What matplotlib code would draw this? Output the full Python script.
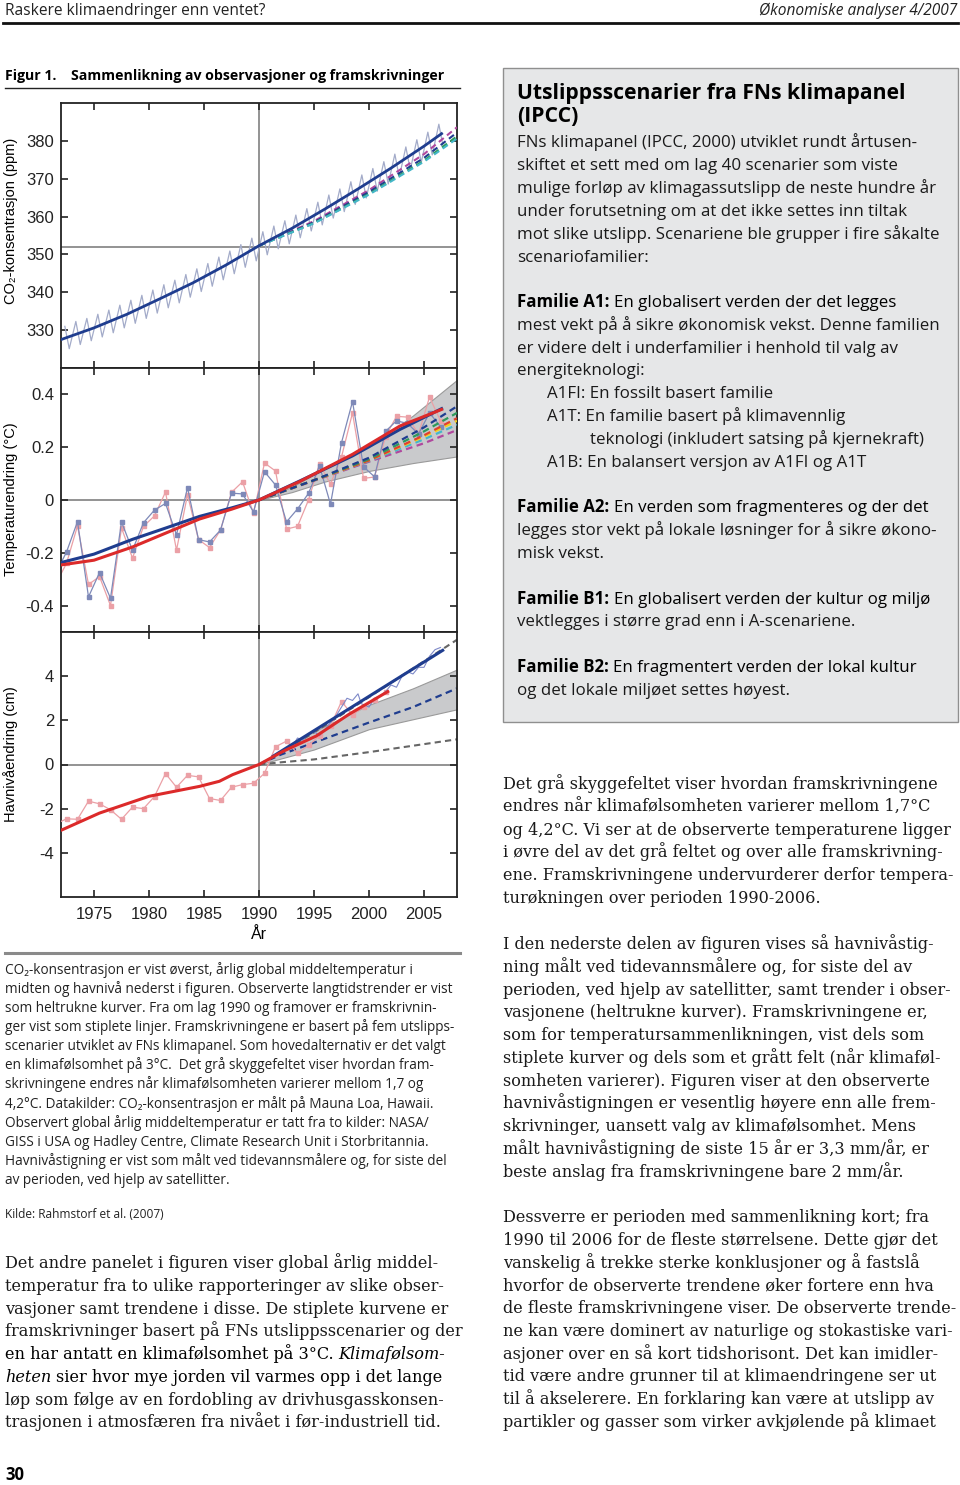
import matplotlib
matplotlib.use('Agg')
import matplotlib.pyplot as plt
from matplotlib.lines import Line2D
from matplotlib.patches import Rectangle

plt.rcParams['axes.unicode_minus'] = False
plt.rcParams['font.family'] = ['Liberation Sans', 'DejaVu Sans']

# ---------------- data ----------------
# CO2 (ppm): seasonal peaks (~year+0.35) and troughs (~year+0.75), Mauna Loa
co2_years = list(range(1972, 2007))
co2_peak = [331.0, 332.3, 333.1, 334.2, 335.3, 336.6, 337.9, 339.2, 340.6, 342.0,
            343.2, 344.7, 346.2, 347.6, 349.3, 350.9, 352.6, 354.3, 356.0, 357.5,
            358.9, 360.4, 362.1, 363.8, 365.7, 367.3, 369.2, 371.0, 372.7, 374.5,
            376.5, 378.4, 380.3, 382.3, 384.4]
co2_trough = [325.1, 326.2, 327.2, 328.2, 329.3, 330.6, 331.8, 333.1, 334.5, 335.9,
              337.2, 338.7, 340.2, 341.6, 343.3, 344.9, 346.6, 348.3, 349.9, 351.5,
              352.8, 354.4, 356.2, 357.8, 359.6, 361.3, 363.2, 364.9, 366.7, 368.6,
              370.4, 372.3, 374.3, 376.3, 378.3]
co2_trend_x = [1972, 1975, 1978, 1981, 1984, 1987, 1990, 1993, 1996, 1999, 2002, 2005, 2006.6]
co2_trend = [327.5, 330.6, 334.2, 338.3, 342.5, 347.2, 352.3, 356.9, 362.0, 367.3, 372.8, 378.6, 381.9]
proj_x = [1990, 1995, 2000, 2005, 2008]
co2_proj = {
    '#b0489e': [352.3, 358.8, 367.0, 376.5, 383.6],
    '#1f3d8f': [352.3, 358.5, 366.5, 375.5, 382.2],
    '#2e9a5c': [352.3, 358.3, 366.0, 374.8, 381.2],
    '#45b7c9': [352.3, 358.2, 365.8, 374.5, 380.6],
}

# temperature change (deg C), annual means
t_years = [1971.5 + i for i in range(36)]
t_giss = [-0.28, -0.197, -0.082, -0.367, -0.275, -0.372, -0.083, -0.19, -0.086, -0.038,
          -0.013, -0.132, 0.047, -0.15, -0.159, -0.114, 0.026, 0.023, -0.045, 0.107,
          0.057, -0.083, -0.034, 0.025, 0.129, -0.016, 0.217, 0.373, 0.126, 0.088,
          0.26, 0.30, 0.29, 0.25, 0.33, 0.278]
t_hadley = [-0.32, -0.24, -0.098, -0.32, -0.29, -0.40, -0.106, -0.22, -0.10, -0.06,
            0.03, -0.19, 0.02, -0.15, -0.18, -0.114, 0.029, 0.069, -0.05, 0.14,
            0.11, -0.11, -0.10, 0.0, 0.138, 0.06, 0.163, 0.33, 0.082, 0.087,
            0.24, 0.317, 0.314, 0.25, 0.39, 0.30]
t_trend_x = [1972, 1975, 1978.5, 1981.6, 1984.6, 1987.5, 1990, 1993.7, 1998.5, 2002.8, 2006.6]
t_trend_giss = [-0.237, -0.205, -0.149, -0.105, -0.062, -0.03, 0.0, 0.072, 0.167, 0.267, 0.346]
t_trend_hadley = [-0.246, -0.228, -0.178, -0.124, -0.072, -0.035, 0.0, 0.07, 0.173, 0.28, 0.343]
t_band_x = [1990, 1993, 1996, 2000, 2004, 2008]
t_band_hi = [0.0, 0.05, 0.12, 0.20, 0.32, 0.455]
t_band_lo = [0.0, 0.03, 0.07, 0.11, 0.14, 0.165]
t_proj = {
    '#b0489e': [0.0, 0.073, 0.145, 0.215, 0.265],
    '#45b7c9': [0.0, 0.075, 0.148, 0.23, 0.285],
    '#f2d21b': [0.0, 0.075, 0.15, 0.24, 0.30],
    '#e2412c': [0.0, 0.075, 0.15, 0.245, 0.31],
    '#2e9a5c': [0.0, 0.075, 0.155, 0.26, 0.33],
    '#1f3d8f': [0.0, 0.075, 0.16, 0.275, 0.355],
}

# sea level change (cm)
s_years = [1971.5 + i for i in range(31)]
s_gauge = [-2.7, -2.46, -2.48, -1.66, -1.78, -2.05, -2.48, -1.93, -2.0, -1.45,
           -0.41, -1.03, -0.49, -0.56, -1.54, -1.63, -1.03, -0.91, -0.85, -0.4,
           0.8, 1.06, 0.5, 0.87, 1.3, 1.75, 2.85, 2.25, 2.6, 2.9, 3.3]
s_trend_x = [1972, 1975.5, 1980, 1984.6, 1986.4, 1987.6, 1990, 1992.2, 1995.2, 1998.2, 2001.7]
s_trend = [-2.98, -2.2, -1.44, -0.99, -0.76, -0.46, 0.0, 0.6, 1.29, 2.28, 3.3]
sat_x = [1993.0, 1993.5, 1994.0, 1994.5, 1995.0, 1995.5, 1996.0, 1996.5, 1997.0, 1997.5,
         1998.0, 1998.5, 1999.0, 1999.3, 1999.6, 2000.0, 2000.5, 2001.0, 2001.5, 2002.0,
         2002.5, 2003.0, 2003.5, 2004.0, 2004.5, 2005.0, 2005.5, 2006.0, 2006.5]
sat_y = [0.8, 1.2, 1.1, 1.4, 1.5, 1.3, 1.6, 1.9, 2.2, 2.6, 3.0, 2.9, 3.2, 2.75, 2.7,
         2.6, 3.0, 3.1, 3.3, 3.6, 3.5, 4.0, 4.2, 4.1, 4.4, 4.4, 4.9, 5.2, 5.3]
sat_trend_x = [1991.3, 2006.7]
sat_trend = [0.38, 5.17]
s_band_x = [1990, 1995, 2000, 2004, 2008]
s_band_hi = [0.0, 1.5, 2.7, 3.45, 4.3]
s_band_lo = [0.0, 0.68, 1.6, 2.05, 2.5]
s_mid_x = [1990, 1992, 1995, 2000, 2004, 2008]
s_mid = [0.0, 0.45, 0.99, 1.9, 2.6, 3.45]
s_high = [0.0, 0.55, 1.45, 3.05, 4.35, 5.65]
s_low = [0.0, 0.1, 0.23, 0.56, 0.85, 1.14]

# ---------------- layout helpers (pixel coords, y from top) ----------------
W, H = 960, 1485
fig = plt.figure(figsize=(9.6, 14.85), dpi=100)
R = fig.canvas.get_renderer()

SANS = ['Open Sans', 'DejaVu Sans']
SERIF = ['DejaVu Serif']


def fy(y):
    return 1 - y / H


def put(x, y, s, size, family, **kw):
    em = size * 100 / 72
    return fig.text(x / W, fy(y + 0.32 * em), s, fontsize=size, family=family,
                    va='baseline', ha=kw.pop('ha', 'left'), **kw)


def put_run(x, y, parts, size, family, gap=None):
    if gap is None:
        gap = 0.27 * size * 100 / 72
    for s, kw in parts:
        t = put(x, y, s, size, family, **kw)
        x = t.get_window_extent(R).x1 + gap


def hline(x0, x1, y, lw, color):
    fig.add_artist(Line2D([x0 / W, x1 / W], [fy(y), fy(y)], lw=lw, color=color,
                          transform=fig.transFigure))


def axes_px(x0, y0, x1, y1):
    return fig.add_axes([x0 / W, fy(y1), (x1 - x0) / W, (y1 - y0) / H])


# ---------------- chart ----------------
GREY = '#8a8a8a'
NAVY = '#1f3d8f'
RED = '#dc2a2a'

ax1 = axes_px(61, 103, 457, 368)
ax2 = axes_px(61, 368, 457, 632)
ax3 = axes_px(61, 632, 457, 897)

for ax in (ax1, ax2, ax3):
    ax.set_xlim(1972, 2008)
    ax.set_xticks([1975, 1980, 1985, 1990, 1995, 2000, 2005])
    ax.tick_params(direction='in', length=5, width=1.2, top=True, right=True,
                   labelsize=12, pad=5, colors='#222222')
    for sp in ax.spines.values():
        sp.set_linewidth(1.3)
        sp.set_color('#222222')
    ax.axvline(1990, color=GREY, lw=1.3, zorder=1)

# CO2
zx, zy = [], []
for yr, p, t in zip(co2_years, co2_peak, co2_trough):
    zx += [yr + 0.35, yr + 0.75]
    zy += [p, t]
ax1.plot(zx, zy, color='#a3abc9', lw=0.9, zorder=2)
ax1.axhline(352, color=GREY, lw=1.3, zorder=1)
for c, v in co2_proj.items():
    ax1.plot(proj_x, v, color=c, lw=1.5, ls=(0, (3, 2)), zorder=3)
ax1.plot(co2_trend_x, co2_trend, color=NAVY, lw=2.0, zorder=4)
ax1.set_ylim(320, 390)
ax1.set_yticks([330, 340, 350, 360, 370, 380])
ax1.tick_params(labelbottom=False)
ax1.set_ylabel('CO₂-konsentrasjon (ppm)', fontsize=10.5)
ax1.yaxis.set_label_coords(-0.108, 0.555)

# temperature
ax2.fill_between(t_band_x, t_band_lo, t_band_hi, color='#c9cacc', ec='#9a9a9a', lw=0.8, zorder=1)
ax2.axhline(0, color=GREY, lw=1.3, zorder=1)
ax2.plot(t_years, t_hadley, color='#eba0a6', lw=0.9, marker='s', ms=3.4, zorder=2)
ax2.plot(t_years, t_giss, color='#7e89b8', lw=0.9, marker='s', ms=3.4, zorder=2)
for c, v in t_proj.items():
    ax2.plot(proj_x, v, color=c, lw=1.6, ls=(0, (3, 2)), zorder=3)
ax2.plot(t_trend_x, t_trend_giss, color=NAVY, lw=2.2, zorder=4)
ax2.plot(t_trend_x, t_trend_hadley, color=RED, lw=2.2, zorder=5)
ax2.set_ylim(-0.5, 0.5)
ax2.set_yticks([-0.4, -0.2, 0, 0.2, 0.4])
ax2.set_yticklabels(['-0.4', '-0.2', '0', '0.2', '0.4'])
ax2.tick_params(labelbottom=False)
ax2.set_ylabel('Temperaturendring (°C)', fontsize=10.5)
ax2.yaxis.set_label_coords(-0.108, 0.504)

# sea level
ax3.fill_between(s_band_x, s_band_lo, s_band_hi, color='#c9cacc', ec='#9a9a9a', lw=0.8, zorder=1)
ax3.axhline(0, color=GREY, lw=1.3, zorder=1)
ax3.plot(s_mid_x, s_high, color='#666666', lw=1.5, ls=(0, (3, 2)), zorder=2)
ax3.plot(s_mid_x, s_low, color='#666666', lw=1.5, ls=(0, (3, 2)), zorder=2)
ax3.plot(s_mid_x, s_mid, color=NAVY, lw=1.6, ls=(0, (3, 2)), zorder=2)
ax3.plot(s_years, s_gauge, color='#eba0a6', lw=0.9, marker='s', ms=3.4, zorder=3)
ax3.plot(sat_x, sat_y, color='#7e89c8', lw=0.8, zorder=3)
ax3.plot(sat_trend_x, sat_trend, color=NAVY, lw=2.2, zorder=4)
ax3.plot(s_trend_x, s_trend, color=RED, lw=2.2, zorder=5)
ax3.set_ylim(-6, 6)
ax3.set_yticks([-4, -2, 0, 2, 4])
ax3.set_yticklabels(['-4', '-2', '0', '2', '4'])
ax3.set_xticklabels(['1975', '1980', '1985', '1990', '1995', '2000', '2005'])
ax3.tick_params(axis='x', pad=7)
ax3.set_ylabel('Havnivåendring (cm)', fontsize=10.5)
ax3.yaxis.set_label_coords(-0.108, 0.54)
ax3.set_xlabel('År', fontsize=11.5, labelpad=4)

# ---------------- page text ----------------
put(5, 10, 'Raskere klimaendringer enn ventet?', 11.2, SANS, color='#222222')
put(957, 10, 'Økonomiske analyser 4/2007', 11.2, SANS, style='italic', ha='right', color='#222222')
hline(3, 958, 22.5, 2.0, '#111111')

put_run(5, 75, [('Figur 1.', dict(weight='bold')),
                ('Sammenlikning av observasjoner og framskrivninger', dict(weight='bold'))],
        10.2, SANS, gap=15)
hline(5, 460, 88, 1.0, '#222222')
hline(5, 460, 953, 2.2, '#8a8a8a')

caption = [
    'CO₂-konsentrasjon er vist øverst, årlig global middeltemperatur i',
    'midten og havnivå nederst i figuren. Observerte langtidstrender er vist',
    'som heltrukne kurver. Fra om lag 1990 og framover er framskrivnin-',
    'ger vist som stiplete linjer. Framskrivningene er basert på fem utslipps-',
    'scenarier utviklet av FNs klimapanel. Som hovedalternativ er det valgt',
    'en klimafølsomhet på 3°C.  Det grå skyggefeltet viser hvordan fram-',
    'skrivningene endres når klimafølsomheten varierer mellom 1,7 og',
    '4,2°C. Datakilder: CO₂-konsentrasjon er målt på Mauna Loa, Hawaii.',
    'Observert global årlig middeltemperatur er tatt fra to kilder: NASA/',
    'GISS i USA og Hadley Centre, Climate Research Unit i Storbritannia.',
    'Havnivåstigning er vist som målt ved tidevannsmålere og, for siste del',
    'av perioden, ved hjelp av satellitter.',
]
for i, s in enumerate(caption):
    put(5, 969.5 + i * 19.1, s, 9.8, SANS, color='#222222')
put(5, 1214, 'Kilde: Rahmstorf et al. (2007)', 8.6, SANS, color='#222222')

# left body text
BODY = 11.6
left_body = [
    'Det andre panelet i figuren viser global årlig middel-',
    'temperatur fra to ulike rapporteringer av slike obser-',
    'vasjoner samt trendene i disse. De stiplete kurvene er',
    'framskrivninger basert på FNs utslippsscenarier og der',
]
for i, s in enumerate(left_body):
    put(5, 1263 + i * 22.75, s, BODY, SERIF, color='#1a1a1a')
put_run(5, 1263 + 4 * 22.75, [('en har antatt en klimafølsomhet på 3°C.', {}),
                              ('Klimafølsom-', dict(style='italic'))], BODY, SERIF)
put_run(5, 1263 + 5 * 22.75, [('heten', dict(style='italic')),
                              ('sier hvor mye jorden vil varmes opp i det lange', {})], BODY, SERIF)
put(5, 1263 + 6 * 22.75, 'løp som følge av en fordobling av drivhusgasskonsen-', BODY, SERIF, color='#1a1a1a')
put(5, 1263 + 7 * 22.75, 'trasjonen i atmosfæren fra nivået i før-industriell tid.', BODY, SERIF, color='#1a1a1a')

put(5, 1475, '30', 12, SANS, weight='bold')

# right box
fig.add_artist(Rectangle((503 / W, fy(722)), 455 / W, 654 / H, transform=fig.transFigure,
                         facecolor='#e6e7e8', edgecolor='#8f8f8f', lw=1.0, zorder=0))
put(517, 92, 'Utslippsscenarier fra FNs klimapanel', 15.2, SANS, weight='bold')
put(517, 115, '(IPCC)', 15.2, SANS, weight='bold')
BOX = 12.2
box_lines = [
    (142, 517, 'FNs klimapanel (IPCC, 2000) utviklet rundt årtusen-'),
    (165, 517, 'skiftet et sett med om lag 40 scenarier som viste'),
    (188, 517, 'mulige forløp av klimagassutslipp de neste hundre år'),
    (211, 517, 'under forutsetning om at det ikke settes inn tiltak'),
    (234, 517, 'mot slike utslipp. Scenariene ble grupper i fire såkalte'),
    (257, 517, 'scenariofamilier:'),
    (325, 517, 'mest vekt på å sikre økonomisk vekst. Denne familien'),
    (348, 517, 'er videre delt i underfamilier i henhold til valg av'),
    (370, 517, 'energiteknologi:'),
    (393, 547, 'A1FI: En fossilt basert familie'),
    (416, 547, 'A1T: En familie basert på klimavennlig'),
    (439, 590, 'teknologi (inkludert satsing på kjernekraft)'),
    (462, 547, 'A1B: En balansert versjon av A1FI og A1T'),
    (530, 517, 'legges stor vekt på lokale løsninger for å sikre økono-'),
    (553, 517, 'misk vekst.'),
    (621, 517, 'vektlegges i større grad enn i A-scenariene.'),
    (690, 517, 'og det lokale miljøet settes høyest.'),
]
for y, x, s in box_lines:
    put(x, y, s, BOX, SANS, color='#1a1a1a')
fam_lines = [
    (302, 'Familie A1:', 'En globalisert verden der det legges'),
    (507, 'Familie A2:', 'En verden som fragmenteres og der det'),
    (599, 'Familie B1:', 'En globalisert verden der kultur og miljø'),
    (667, 'Familie B2:', 'En fragmentert verden der lokal kultur'),
]
for y, a, b in fam_lines:
    put_run(517, y, [(a, dict(weight='bold')), (b, {})], BOX, SANS)

# right body text
right_body = [
    ['Det grå skyggefeltet viser hvordan framskrivningene',
     'endres når klimafølsomheten varierer mellom 1,7°C',
     'og 4,2°C. Vi ser at de observerte temperaturene ligger',
     'i øvre del av det grå feltet og over alle framskrivning-',
     'ene. Framskrivningene undervurderer derfor tempera-',
     'turøkningen over perioden 1990-2006.'],
    ['I den nederste delen av figuren vises så havnivåstig-',
     'ning målt ved tidevannsmålere og, for siste del av',
     'perioden, ved hjelp av satellitter, samt trender i obser-',
     'vasjonene (heltrukne kurver). Framskrivningene er,',
     'som for temperatursammenlikningen, vist dels som',
     'stiplete kurver og dels som et grått felt (når klimaføl-',
     'somheten varierer). Figuren viser at den observerte',
     'havnivåstigningen er vesentlig høyere enn alle frem-',
     'skrivninger, uansett valg av klimafølsomhet. Mens',
     'målt havnivåstigning de siste 15 år er 3,3 mm/år, er',
     'beste anslag fra framskrivningene bare 2 mm/år.'],
    ['Dessverre er perioden med sammenlikning kort; fra',
     '1990 til 2006 for de fleste størrelsene. Dette gjør det',
     'vanskelig å trekke sterke konklusjoner og å fastslå',
     'hvorfor de observerte trendene øker fortere enn hva',
     'de fleste framskrivningene viser. De observerte trende-',
     'ne kan være dominert av naturlige og stokastiske vari-',
     'asjoner over en så kort tidshorisont. Det kan imidler-',
     'tid være andre grunner til at klimaendringene ser ut',
     'til å akselerere. En forklaring kan være at utslipp av',
     'partikler og gasser som virker avkjølende på klimaet'],
]
starts = [784, 944, 1217]
for y0, para in zip(starts, right_body):
    for i, s in enumerate(para):
        put(503, y0 + i * 22.75, s, BODY, SERIF, color='#1a1a1a')

fig.savefig('out.png', dpi=100)
